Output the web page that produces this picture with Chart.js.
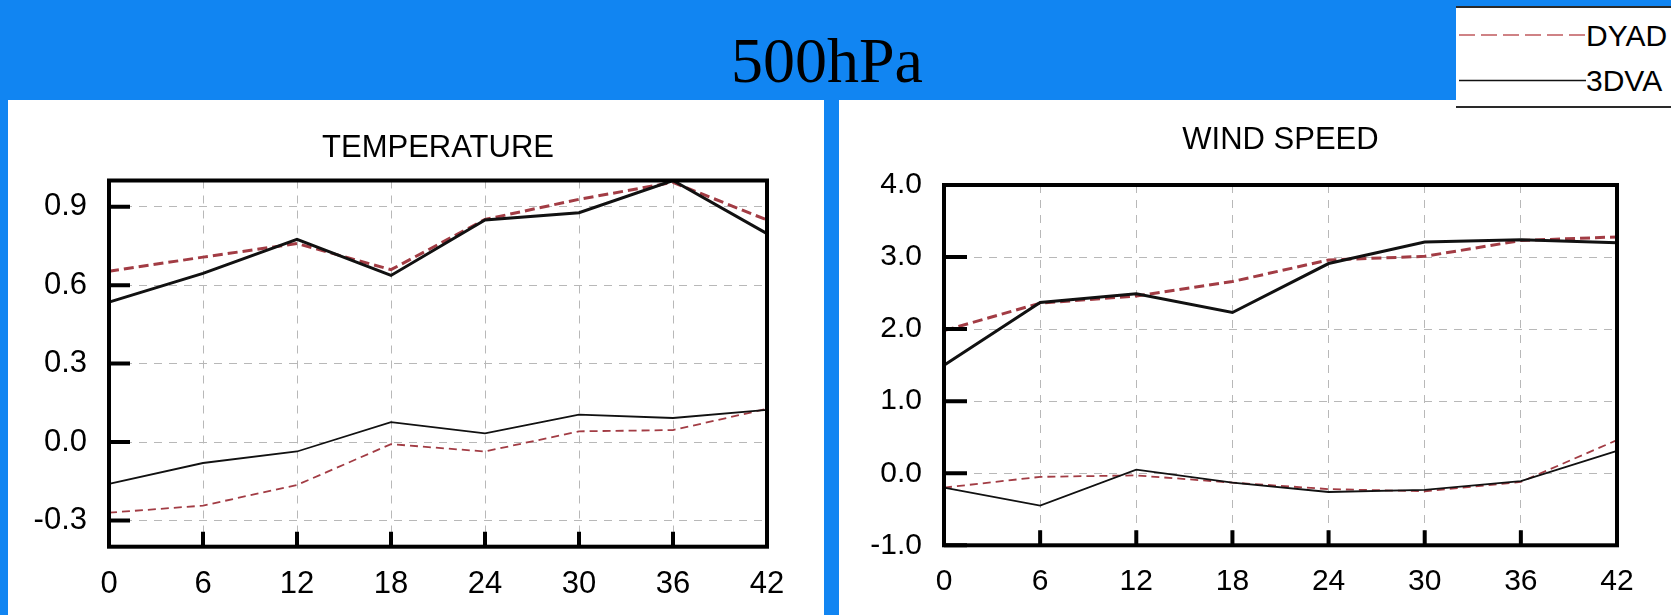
<!DOCTYPE html>
<html>
<head>
<meta charset="utf-8">
<script src="https://cdn.jsdelivr.net/npm/chart.js@4.4.1/dist/chart.umd.min.js"></script>
<style>
html,body{margin:0;padding:0;}
body{width:1671px;height:615px;background:#1185F2;position:relative;overflow:hidden;font-family:'Liberation Sans',Arial,sans-serif;}
.panel{position:absolute;background:#fff;}
#mainTitle{position:absolute;left:627px;top:29px;width:400px;height:64px;line-height:64px;text-align:center;font-family:'Liberation Serif','Times New Roman',serif;font-size:64px;color:#000;white-space:nowrap;}
canvas{position:absolute;}
#legendBox{position:absolute;left:1456px;top:6px;width:215px;height:103px;background:#fff;}
.lgBorder{position:absolute;left:1456px;width:215px;height:2px;background:#2a2a2a;}
.lgText{position:absolute;font-family:'Liberation Sans',Arial,sans-serif;font-size:30px;line-height:30px;color:#000;white-space:nowrap;}
#lgSvg{position:absolute;left:1456px;top:0px;}
</style>
</head>
<body>
<div class="panel" style="left:8px;top:100px;width:816px;height:515px;"></div>
<div class="panel" style="left:839px;top:100px;width:832px;height:515px;"></div>
<div id="mainTitle">500hPa</div>
<canvas id="tempChart" width="816" height="515" style="left:8px;top:100px;width:816px;height:515px;"></canvas>
<canvas id="windChart" width="832" height="515" style="left:839px;top:100px;width:832px;height:515px;"></canvas>
<div id="legendBox"></div>
<div class="lgBorder" style="top:6px;"></div>
<div class="lgBorder" style="top:106px;"></div>
<svg id="lgSvg" width="215" height="110">
  <line x1="3" y1="35" x2="130" y2="35" stroke="#c05a5e" stroke-width="1.6" stroke-dasharray="16 6"/>
  <line x1="3" y1="80.5" x2="130" y2="80.5" stroke="#111" stroke-width="1.6"/>
</svg>
<div class="lgText" id="lg1" style="left:1586px;top:21px;"></div>
<div class="lgText" id="lg2" style="left:1586px;top:66px;"></div>
<script>
// ---------- data ----------
const hours = [0, 6, 12, 18, 24, 30, 36, 42];
const seriesNames = ['DYAD', '3DVA'];

const tempTitle = 'TEMPERATURE';
const tempTicks = [-0.3, 0.0, 0.3, 0.6, 0.9];
const tempRange = [-0.4, 1.0];
const temp3dvaUpper = [0.535, 0.645, 0.775, 0.637, 0.849, 0.877, 1.0, 0.797];
const tempDyadUpper = [0.653, 0.707, 0.759, 0.659, 0.851, 0.928, 0.993, 0.849];
const temp3dvaLower = [-0.160, -0.080, -0.036, 0.076, 0.033, 0.105, 0.092, 0.123];
const tempDyadLower = [-0.270, -0.243, -0.164, -0.008, -0.036, 0.041, 0.046, 0.127];

const windTitle = 'WIND SPEED';
const windTicks = [-1.0, 0.0, 1.0, 2.0, 3.0, 4.0];
const windRange = [-1.0, 4.0];
const wind3dvaUpper = [1.50, 2.37, 2.49, 2.23, 2.91, 3.21, 3.24, 3.20];
const windDyadUpper = [1.98, 2.36, 2.46, 2.66, 2.96, 3.01, 3.23, 3.28];
const wind3dvaLower = [-0.20, -0.45, 0.05, -0.13, -0.26, -0.23, -0.11, 0.31];
const windDyadLower = [-0.20, -0.05, -0.03, -0.13, -0.22, -0.25, -0.12, 0.46];

document.getElementById('lg1').textContent = seriesNames[0];
document.getElementById('lg2').textContent = seriesNames[1];

// ---------- styles ----------
const RED = '#a23c44';
const BLACK = '#111111';

Chart.defaults.font.family = "'Liberation Sans', Arial, sans-serif";
Chart.defaults.color = '#000';

const framePlugin = {
  id: 'frame',
  afterDraw(chart, args, opts) {
    const ctx = chart.ctx;
    const a = chart.chartArea;
    const x = chart.scales.x, y = chart.scales.y;
    ctx.save();
    ctx.strokeStyle = '#000';
    ctx.lineWidth = opts.frameWidth;
    ctx.lineCap = 'butt';
    ctx.lineJoin = 'miter';
    ctx.beginPath();
    y.ticks.forEach(t => {
      const py = y.getPixelForValue(t.value);
      ctx.moveTo(a.left, py);
      ctx.lineTo(a.left + opts.yTickLen, py);
    });
    x.ticks.forEach((t, i) => {
      const px = x.getPixelForTick(i);
      ctx.moveTo(px, a.bottom);
      ctx.lineTo(px, a.bottom - opts.xTickLen);
    });
    ctx.stroke();
    ctx.strokeRect(a.left, a.top, a.right - a.left, a.bottom - a.top);
    ctx.fillStyle = '#000';
    ctx.font = opts.titleFont;
    ctx.textAlign = 'center';
    ctx.textBaseline = 'alphabetic';
    ctx.fillText(opts.title, (a.left + a.right) / 2, opts.titleBaseline);
    ctx.restore();
  }
};

function makeChart(id, cfg) {
  const canvas = document.getElementById(id);
  const W = canvas.width, H = canvas.height;
  const g = cfg.geom;
  const ds = (label, data, color, width, dash) => ({
    label, data, borderColor: color, borderWidth: width, borderDash: dash,
    pointRadius: 0, pointHoverRadius: 0, tension: 0, fill: false
  });
  return new Chart(canvas, {
    type: 'line',
    data: {
      labels: hours.map(String),
      datasets: [
        ds('3DVA', cfg.s3u, BLACK, 3, []),
        ds('DYAD', cfg.sdu, RED, 3, [10, 5]),
        ds('3DVA', cfg.s3l, BLACK, 1.8, []),
        ds('DYAD', cfg.sdl, RED, 1.8, [8, 5])
      ]
    },
    plugins: [framePlugin],
    options: {
      responsive: false,
      maintainAspectRatio: false,
      animation: false,
      events: [],
      layout: { padding: { left: 0, right: W - g.right, top: g.top, bottom: 0 } },
      plugins: {
        legend: { display: false },
        title: { display: false },
        tooltip: { enabled: false },
        frame: {
          frameWidth: 4, yTickLen: g.yTickLen, xTickLen: 15,
          title: cfg.title, titleFont: "31px 'Liberation Sans', Arial, sans-serif",
          titleBaseline: g.titleBaseline
        }
      },
      scales: {
        x: {
          type: 'category',
          offset: false,
          grid: { color: '#b8b8b8', lineWidth: 1, drawTicks: false, offset: false },
          border: { display: false, dash: [8, 7] },
          ticks: { font: { size: g.xFont }, padding: g.xPad, maxRotation: 0, autoSkip: false, color: '#000' },
          afterFit: s => { s.height = H - g.bottom; }
        },
        y: {
          type: 'linear',
          min: cfg.range[0], max: cfg.range[1],
          grid: { color: '#b8b8b8', lineWidth: 1, drawTicks: false },
          border: { display: false, dash: [8, 7] },
          ticks: { font: { size: g.yFont }, padding: 22, color: '#000', callback: v => Number(v).toFixed(1) },
          afterBuildTicks: s => { s.ticks = cfg.ticks.map(v => ({ value: v })); },
          afterFit: s => { s.width = g.left; }
        }
      }
    }
  });
}

makeChart('tempChart', {
  title: tempTitle, ticks: tempTicks, range: tempRange,
  s3u: temp3dvaUpper, sdu: tempDyadUpper, s3l: temp3dvaLower, sdl: tempDyadLower,
  geom: { left: 101, right: 759, top: 80.5, bottom: 446.7, titleBaseline: 57, yTickLen: 21, xFont: 31, yFont: 31, xPad: 19 }
});

makeChart('windChart', {
  title: windTitle, ticks: windTicks, range: windRange,
  s3u: wind3dvaUpper, sdu: windDyadUpper, s3l: wind3dvaLower, sdl: windDyadLower,
  geom: { left: 105, right: 778, top: 85, bottom: 445.3, titleBaseline: 49, yTickLen: 23, xFont: 30, yFont: 30, xPad: 18 }
});
</script>
</body>
</html>
